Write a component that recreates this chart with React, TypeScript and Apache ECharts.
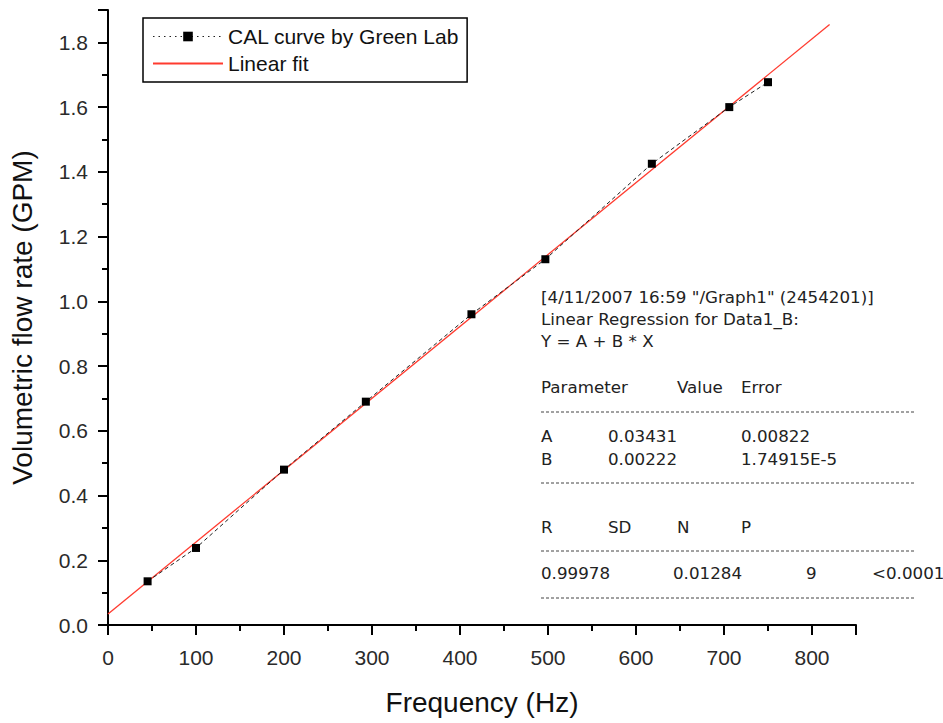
import React, { useEffect, useRef } from "react";
import * as echarts from "echarts";

const freqHz = [45, 100, 200, 293, 413, 497, 618, 706, 750];
const flowGpm = [0.135, 0.238, 0.48, 0.69, 0.96, 1.13, 1.425, 1.6, 1.677];
const fitX = [0, 820];
const fitY = [0.0343, 1.855];

const regressionHeader = [
  '[4/11/2007 16:59 "/Graph1" (2454201)]',
  "Linear Regression for Data1_B:",
  "Y = A + B * X",
];
const paramHeader = ["Parameter", "Value", "Error"];
const paramRows = [
  ["A", "0.03431", "0.00822"],
  ["B", "0.00222", "1.74915E-5"],
];
const statHeader = ["R", "SD", "N", "P"];
const statRow = ["0.99978", "0.01284", "9", "<0.0001"];

const FONT = 'Arial, "Liberation Sans", sans-serif';
const BOXFONT = '"DejaVu Sans", Arial, sans-serif';

export default function App() {
  const ref = useRef<HTMLDivElement>(null);
  useEffect(() => {
    document.body.style.margin = "0";
    const chart = echarts.init(ref.current!, null, { renderer: "svg" });
    const txt = (x: number, y: number, s: string) => ({
      type: "text",
      x,
      y,
      style: { text: s, fill: "#222", font: `16.7px ${BOXFONT}`, textVerticalAlign: "middle" },
    });
    const dash = (y: number) => ({
      type: "line",
      shape: { x1: 541, y1: y, x2: 914, y2: y },
      style: { stroke: "#444", lineWidth: 1, lineDash: [3, 2] },
    });
    const graphics: any[] = [];
    regressionHeader.forEach((s, i) => graphics.push(txt(541, 297 + i * 22, s)));
    const pcols = [541, 677, 741];
    paramHeader.forEach((s, i) => graphics.push(txt(pcols[i], 387, s)));
    graphics.push(dash(412));
    const rcols = [541, 608, 741];
    paramRows.forEach((r, j) => r.forEach((s, i) => graphics.push(txt(rcols[i], 436 + j * 23, s))));
    graphics.push(dash(483));
    const scols = [541, 608, 677, 741];
    statHeader.forEach((s, i) => graphics.push(txt(scols[i], 527, s)));
    graphics.push(dash(551));
    const vcols = [541, 673, 806, 872];
    statRow.forEach((s, i) => graphics.push(txt(vcols[i], 573, s)));
    graphics.push(dash(598));

    chart.setOption({
      animation: false,
      backgroundColor: "#fff",
      grid: { left: 108, right: 87, top: 10, bottom: 98 },
      legend: {
        orient: "vertical",
        left: 143,
        top: 18,
        padding: [8, 8, 8, 9],
        itemGap: 6,
        itemWidth: 70,
        itemHeight: 12,
        borderColor: "#000",
        borderWidth: 1.5,
        borderRadius: 0,
        textStyle: { fontSize: 21, fontFamily: FONT, color: "#111" },
        data: [
          { name: "CAL curve by Green Lab", lineStyle: { type: [1.5, 4], width: 1.2 } },
          { name: "Linear fit", itemStyle: { opacity: 0 } },
        ],
      },
      xAxis: {
        type: "value",
        min: 0,
        max: 850,
        interval: 100,
        name: "Frequency (Hz)",
        nameLocation: "middle",
        nameGap: 63,
        nameTextStyle: { fontSize: 28, fontFamily: FONT, color: "#111" },
        axisLine: { show: true, onZero: false, lineStyle: { color: "#000", width: 2 } },
        axisTick: { show: true, length: 10, lineStyle: { color: "#000", width: 2 } },
        minorTick: { show: true, splitNumber: 2, length: 6, lineStyle: { color: "#000", width: 2 } },
        splitLine: { show: false },
        axisLabel: { fontSize: 21, fontFamily: FONT, color: "#2a2a2a", margin: 22, showMaxLabel: false },
      },
      yAxis: {
        type: "value",
        min: 0,
        max: 1.9,
        interval: 0.2,
        name: "Volumetric flow rate (GPM)",
        nameLocation: "middle",
        nameGap: 72,
        nameTextStyle: { fontSize: 28, fontFamily: FONT, color: "#111" },
        axisLine: { show: true, onZero: false, lineStyle: { color: "#000", width: 2 } },
        axisTick: { show: true, length: 10, lineStyle: { color: "#000", width: 2 } },
        minorTick: { show: true, splitNumber: 2, length: 6, lineStyle: { color: "#000", width: 2 } },
        splitLine: { show: false },
        axisLabel: {
          fontSize: 21,
          fontFamily: FONT,
          color: "#2a2a2a",
          margin: 20,
          showMaxLabel: false,
          formatter: (v: number) => v.toFixed(1),
        },
      },
      series: [
        {
          name: "CAL curve by Green Lab",
          type: "line",
          data: freqHz.map((x, i) => [x, flowGpm[i]]),
          symbol: "rect",
          symbolSize: 8,
          itemStyle: { color: "#000" },
          lineStyle: { color: "#222", width: 1, type: [4, 3] },
          z: 3,
        },
        {
          name: "Linear fit",
          type: "line",
          data: fitX.map((x, i) => [x, fitY[i]]),
          symbol: "none",
          itemStyle: { color: "#ff3b2f" },
          lineStyle: { color: "#ff3b2f", width: 1.3 },
          z: 2,
        },
      ],
      graphic: graphics,
    });
    return () => chart.dispose();
  }, []);
  return <div ref={ref} style={{ width: 943, height: 723 }} />;
}
